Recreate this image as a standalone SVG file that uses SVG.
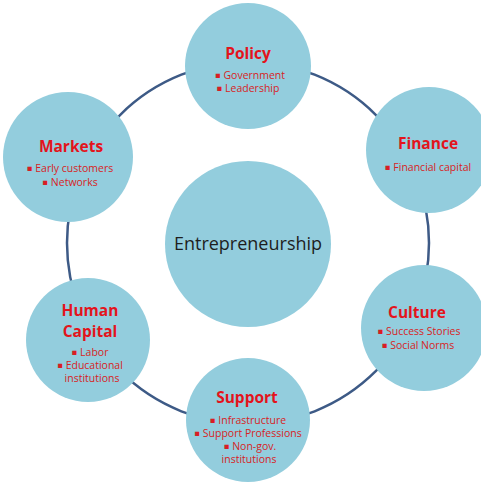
<svg xmlns="http://www.w3.org/2000/svg" width="481" height="482" viewBox="0 0 481 482">
  <style>
    .node { fill: #93cddd; }
    .ring { fill: none; stroke: #3d5a86; stroke-width: 2.5; }
    .title { font-family: "Open Sans", "Noto Sans", "DejaVu Sans", sans-serif; font-weight: bold; font-size: 15.5px; fill: #e3141c; text-anchor: middle; }
    .item { font-family: "Open Sans", "Noto Sans", "DejaVu Sans", sans-serif; font-size: 10.5px; fill: #d81e24; text-anchor: middle; }
    .dot { font-family: "DejaVu Sans", sans-serif; font-size: 8.5px; baseline-shift: 1.5px; }
    .core { font-family: "Open Sans", "Noto Sans", "DejaVu Sans", sans-serif; font-size: 18px; fill: #1e1e1e; text-anchor: middle; }
  </style>
  <rect width="481" height="482" fill="#ffffff"/>

  <!-- ring linking the factor circles -->
  <g id="connectors">
    <circle class="ring" cx="248" cy="243" r="181"/>
  </g>

  <g id="entrepreneurship">
    <circle class="node" cx="248" cy="244" r="83"/>
    <text class="core" x="248" y="250">Entrepreneurship</text>
  </g>

  <g id="policy">
    <circle class="node" cx="248" cy="66" r="63"/>
    <text class="title" x="248" y="59">Policy</text>
    <text class="item" x="250" y="79"><tspan class="dot">▪</tspan> Government</text>
    <text class="item" x="248" y="92"><tspan class="dot">▪</tspan> Leadership</text>
  </g>

  <g id="finance">
    <circle class="node" cx="429" cy="150" r="63"/>
    <text class="title" x="428" y="149">Finance</text>
    <text class="item" x="428" y="171"><tspan class="dot">▪</tspan> Financial capital</text>
  </g>

  <g id="markets">
    <circle class="node" cx="68" cy="157" r="65"/>
    <text class="title" x="71" y="152">Markets</text>
    <text class="item" x="70" y="172"><tspan class="dot">▪</tspan> Early customers</text>
    <text class="item" x="70" y="186"><tspan class="dot">▪</tspan> Networks</text>
  </g>

  <g id="culture">
    <circle class="node" cx="424" cy="328" r="63"/>
    <text class="title" x="417" y="318">Culture</text>
    <text class="item" x="419" y="335"><tspan class="dot">▪</tspan> Success Stories</text>
    <text class="item" x="418" y="349"><tspan class="dot">▪</tspan> Social Norms</text>
  </g>

  <g id="human-capital">
    <circle class="node" cx="88" cy="340" r="62"/>
    <text class="title" x="90" y="316">Human</text>
    <text class="title" x="90" y="337">Capital</text>
    <text class="item" x="90" y="356"><tspan class="dot">▪</tspan> Labor</text>
    <text class="item" x="90" y="369"><tspan class="dot">▪</tspan> Educational</text>
    <text class="item" x="92" y="382">institutions</text>
  </g>

  <g id="support">
    <circle class="node" cx="248" cy="420" r="62"/>
    <text class="title" x="247" y="403">Support</text>
    <text class="item" x="248" y="424"><tspan class="dot">▪</tspan> Infrastructure</text>
    <text class="item" x="248" y="437"><tspan class="dot">▪</tspan> Support Professions</text>
    <text class="item" x="250" y="450"><tspan class="dot">▪</tspan> Non-gov.</text>
    <text class="item" x="249" y="463">institutions</text>
  </g>
</svg>
